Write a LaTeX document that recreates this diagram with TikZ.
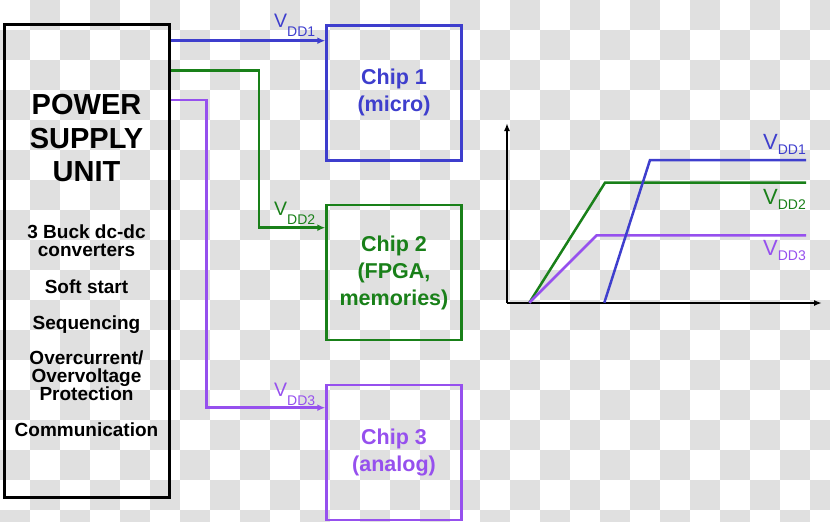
\documentclass[tikz,border=0pt]{standalone}
\usepackage{fontspec}
\setmainfont{Liberation Sans}
\usetikzlibrary{arrows.meta}
\definecolor{vddone}{RGB}{62,62,205}
\definecolor{vddtwo}{RGB}{25,128,25}
\definecolor{vddthree}{RGB}{150,80,238}
\definecolor{checker}{RGB}{224,224,224}
\newcommand{\vdd}[2]{V\raisebox{#1}{\fontsize{14}{14}\selectfont DD#2}}

\begin{document}
\begin{tikzpicture}[x=1pt,y=-1pt]
		\tikzstyle{Unit} = [rectangle, minimum width=165pt, minimum height=473pt, draw=black, line width=3pt]
		\tikzstyle{Chip} = [rectangle, minimum width=135pt, minimum height=135pt, line width=2.5pt, align=center, font=\fontsize{21.5}{27}\selectfont\bfseries]
		\tikzstyle{Title} = [align=center, inner sep=0pt, font=\fontsize{29}{33.3}\selectfont\bfseries]
		\tikzstyle{Item} = [align=center, inner sep=0pt, font=\fontsize{19}{18.2}\selectfont\bfseries]
		\tikzstyle{Vlabel} = [anchor=base west, inner sep=0pt, font=\fontsize{19.5}{20}\selectfont]
		\tikzstyle{Glabel} = [anchor=base west, inner sep=0pt, font=\fontsize{22}{22}\selectfont]
		\tikzstyle{Feed} = [line width=2.5pt, -{Latex[length=8pt,width=7pt]}]
		\tikzstyle{axis} = [line width=1.6pt, black, -{Latex[length=8pt,width=6pt]}]
		\tikzstyle{ramp} = [line width=2.5pt]

		\useasboundingbox (0,0) rectangle (830,522);
		\begin{scope}
			\clip (0,0) rectangle (830,522);
			\foreach \r in {0,...,17}{
				\foreach \c in {0,...,27}{
					\pgfmathtruncatemacro{\odd}{mod(\r+\c,2)}
					\ifnum\odd=1 \fill[checker] (30*\c,30*\r) rectangle ++(30,30); \fi
				}
			}
		\end{scope}

		\node (psu) [Unit] at (86.5,261.3) {};
		\node (title) [Title] at (86.5,138.3) {POWER\\SUPPLY\\UNIT};
		\node (buck) [Item] at (86.5,240.7) {3 Buck dc-dc\\converters};
		\node (soft) [Item] at (86.5,286.5) {Soft start};
		\node (seq) [Item] at (86.5,324.2) {Sequencing};
		\node (prot) [Item] at (86.5,375.7) {Overcurrent/\\Overvoltage\\Protection};
		\node (comm) [Item] at (86.5,429.9) {Communication};

		\node (chip1) [Chip, draw=vddone, text=vddone] at (394,92.75) {Chip 1\\(micro)};
		\node (chip2) [Chip, draw=vddtwo, text=vddtwo] at (394,272.5) {Chip 2\\(FPGA,\\memories)};
		\node (chip3) [Chip, draw=vddthree, text=vddthree] at (394,452.5) {Chip 3\\(analog)};

		\draw [Feed, vddone] (psu.east |- 0,40.7) -- (chip1.west |- 0,40.7);
		\draw [Feed, vddtwo] (psu.east |- 0,70.7) -| (259,227.7) -- (chip2.west |- 0,227.7);
		\draw [Feed, vddthree] (psu.east |- 0,100) -| (206.7,407.7) -- (chip3.west |- 0,407.7);
		\node (lab1) [Vlabel, text=vddone] at (274,27.3) {\vdd{-9pt}{1}};
		\node (lab2) [Vlabel, text=vddtwo] at (274,215.7) {\vdd{-9pt}{2}};
		\node (lab3) [Vlabel, text=vddthree] at (274,396) {\vdd{-9pt}{3}};

		\coordinate (orig) at (507,303);
		\draw [axis] (orig) -- (507,123);
		\draw [axis] (orig) -- (822,303);
		\draw [ramp, vddtwo] (529.3,302.7) -- (605,182.7) -- (806,182.7);
		\draw [ramp, vddthree] (529.3,302.7) -- (596.7,235.3) -- (806,235.3);
		\draw [ramp, vddone] (604.3,302.7) -- (650,160) -- (806,160);
		\node (glab1) [Glabel, text=vddone] at (763,149) {\vdd{-5pt}{1}};
		\node (glab2) [Glabel, text=vddtwo] at (763,204) {\vdd{-5pt}{2}};
		\node (glab3) [Glabel, text=vddthree] at (763,255) {\vdd{-5pt}{3}};
\end{tikzpicture}
\end{document}
